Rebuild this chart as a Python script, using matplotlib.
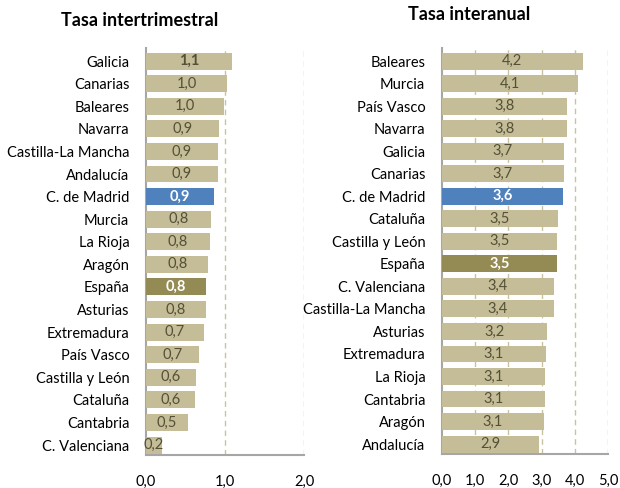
import matplotlib.pyplot as plt

# Tasa intertrimestral
regions_q = ["Galicia", "Canarias", "Baleares", "Navarra", "Castilla-La Mancha",
             "Andalucía", "C. de Madrid", "Murcia", "La Rioja", "Aragón", "España",
             "Asturias", "Extremadura", "País Vasco", "Castilla y León", "Cataluña",
             "Cantabria", "C. Valenciana"]
values_q = [1.09, 1.03, 0.99, 0.92, 0.91, 0.91, 0.86, 0.82, 0.81, 0.79, 0.76,
            0.755, 0.73, 0.67, 0.63, 0.62, 0.53, 0.2]

# Tasa interanual
regions_y = ["Baleares", "Murcia", "País Vasco", "Navarra", "Galicia", "Canarias",
             "C. de Madrid", "Cataluña", "Castilla y León", "España", "C. Valenciana",
             "Castilla-La Mancha", "Asturias", "Extremadura", "La Rioja", "Cantabria",
             "Aragón", "Andalucía"]
values_y = [4.24, 4.1, 3.77, 3.77, 3.67, 3.67, 3.64, 3.5, 3.46, 3.46, 3.36,
            3.36, 3.16, 3.12, 3.11, 3.11, 3.07, 2.92]

xticks_q = [0.0, 1.0, 2.0]
xticks_y = [0.0, 1.0, 2.0, 3.0, 4.0, 5.0]

TAN = "#C4BD97"
BLUE = "#4F81BD"
OLIVE = "#948A54"
TXT = "#545037"
GRID = "#C9C29F"
SPINE = "#A6A6A6"

plt.rcParams["font.family"] = ["Lato", "DejaVu Sans"]


def fmt(v):
    return f"{v:.1f}".replace(".", ",")


def draw(ax, regions, values, xticks, title, title_x, title_y, bold_first=False):
    ys = list(range(len(regions)))
    colors = []
    for r in regions:
        if r == "C. de Madrid":
            colors.append(BLUE)
        elif r == "España":
            colors.append(OLIVE)
        else:
            colors.append(TAN)
    ax.barh(ys, values, height=0.75, color=colors, zorder=3)
    for i, (r, v) in enumerate(zip(regions, values)):
        if r in ("C. de Madrid", "España"):
            c, w = "white", "bold"
        else:
            c, w = TXT, "normal"
        if bold_first and i == 0:
            w = "bold"
        ax.text(v / 2, i, fmt(v), ha="center", va="center", fontsize=10.5,
                color=c, fontweight=w, zorder=4)
    ax.set_yticks(ys)
    ax.set_yticklabels(regions, fontsize=10.5)
    ax.set_ylim(len(regions) - 1 + 0.44, -0.58)
    ax.set_xlim(xticks[0], xticks[-1])
    ax.set_xticks(xticks)
    ax.set_xticklabels([fmt(t) for t in xticks], fontsize=10.5)
    for t in xticks[1:]:
        ax.axvline(t, color=GRID, linestyle=(0, (4, 3)), linewidth=1.0, zorder=1)
    ax.tick_params(axis="y", length=0, pad=12)
    ax.tick_params(axis="x", length=0, pad=14)
    for s in ("top", "right"):
        ax.spines[s].set_visible(False)
    for s in ("left", "bottom"):
        ax.spines[s].set_color(SPINE)
        ax.spines[s].set_linewidth(1.5)
    ax.figure.text(title_x, title_y, title, ha="center", va="center",
                   fontsize=13, fontweight="bold")


fig = plt.figure(figsize=(6.2, 4.88), dpi=100)
ax1 = fig.add_axes([146 / 620, 33 / 488, 158 / 620, 407 / 488])
ax2 = fig.add_axes([442 / 620, 34 / 488, 166 / 620, 406 / 488])

draw(ax1, regions_q, values_q, xticks_q, "Tasa intertrimestral",
     140 / 620, 1 - 20 / 488, bold_first=True)
draw(ax2, regions_y, values_y, xticks_y, "Tasa interanual",
     469 / 620, 1 - 14 / 488)

fig.savefig("out.png", dpi=100)
